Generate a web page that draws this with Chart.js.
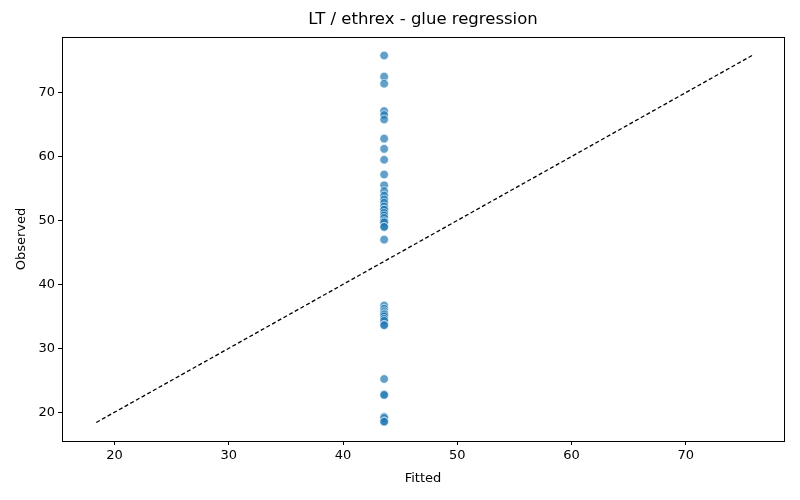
<!DOCTYPE html>
<html>
<head>
<meta charset="utf-8">
<script src="https://cdn.jsdelivr.net/npm/chart.js@4/dist/chart.umd.min.js"></script>
<style>
  html, body { margin: 0; padding: 0; background: #fff; }
  #wrap { width: 800px; height: 500px; }
</style>
</head>
<body>
<div id="wrap"><canvas id="chart" width="800" height="500"></canvas></div>
<script>
// Fitted value (same for all rows) and observed values
const fittedValue = 43.6;
const observed = [
  75.8, 72.5, 71.4, 67.1, 66.5, 65.8, 62.8, 61.2, 59.5, 57.2,
  55.5, 54.6, 53.9, 53.3, 52.8, 52.2, 51.7, 51.7, 51.2, 50.8,
  50.4, 49.9, 49.7, 49.0, 49.0, 47.0,
  36.7, 36.2, 35.8, 35.5, 35.3, 35.0, 34.6, 34.3, 33.7, 33.6,
  25.2, 22.8, 22.7, 19.3, 19.1, 18.6, 18.5
];
const diagonal = [18.4, 75.8];
const xTicks = [20, 30, 40, 50, 60, 70];
const yTicks = [20, 30, 40, 50, 60, 70];
const titleText = 'LT / ethrex - glue regression';

const font = { family: 'DejaVu Sans', size: 13 };

// frame around the plot area like matplotlib spines, title centred over the axes
const frame = {
  id: 'frame',
  afterDraw(chart) {
    const a = chart.chartArea, ctx = chart.ctx;
    ctx.save();
    ctx.strokeStyle = '#000';
    ctx.lineWidth = 1;
    ctx.strokeRect(a.left + 0.5, a.top + 0.5, a.right - a.left, a.bottom - a.top);
    ctx.fillStyle = '#000';
    ctx.font = '16.5px "DejaVu Sans"';
    ctx.textAlign = 'center';
    ctx.textBaseline = 'middle';
    ctx.fillText(titleText, (a.left + a.right) / 2, 20);
    ctx.restore();
  }
};

new Chart(document.getElementById('chart'), {
  type: 'scatter',
  data: {
    datasets: [{
      label: 'points',
      data: observed.map(v => ({ x: fittedValue, y: v })),
      backgroundColor: 'rgba(31,119,180,0.7)',
      borderColor: '#ffffff',
      borderWidth: 0.6,
      pointRadius: 4.3
    }, {
      type: 'line',
      label: 'identity',
      data: diagonal.map(v => ({ x: v, y: v })),
      borderColor: '#000',
      borderWidth: 1.3,
      borderDash: [4, 2.5],
      pointRadius: 0,
      fill: false
    }]
  },
  options: {
    responsive: false,
    animation: false,
    layout: { padding: { left: 10, right: 16, top: 37, bottom: 10 } },
    plugins: {
      legend: { display: false },
      tooltip: { enabled: false },
      title: { display: false }
    },
    scales: {
      x: {
        type: 'linear',
        min: 15.4,
        max: 78.6,
        afterBuildTicks: s => { s.ticks = xTicks.map(v => ({ value: v })); },
        afterFit: s => { s.height = 49; },
        grid: { drawOnChartArea: false, drawTicks: true, tickLength: 4, color: '#000' },
        border: { display: true, color: '#000' },
        ticks: { color: '#000', font: font, padding: 3, maxRotation: 0 },
        title: { display: true, text: 'Fitted', color: '#000', font: font, padding: 4 }
      },
      y: {
        type: 'linear',
        min: 15.5,
        max: 78.7,
        afterBuildTicks: s => { s.ticks = yTicks.map(v => ({ value: v })); },
        afterFit: s => { s.width = 52; },
        grid: { drawOnChartArea: false, drawTicks: true, tickLength: 4, color: '#000' },
        border: { display: true, color: '#000' },
        ticks: { color: '#000', font: font, padding: 3 },
        title: { display: true, text: 'Observed', color: '#000', font: font, padding: 4 }
      }
    }
  },
  plugins: [frame]
});
</script>
</body>
</html>
